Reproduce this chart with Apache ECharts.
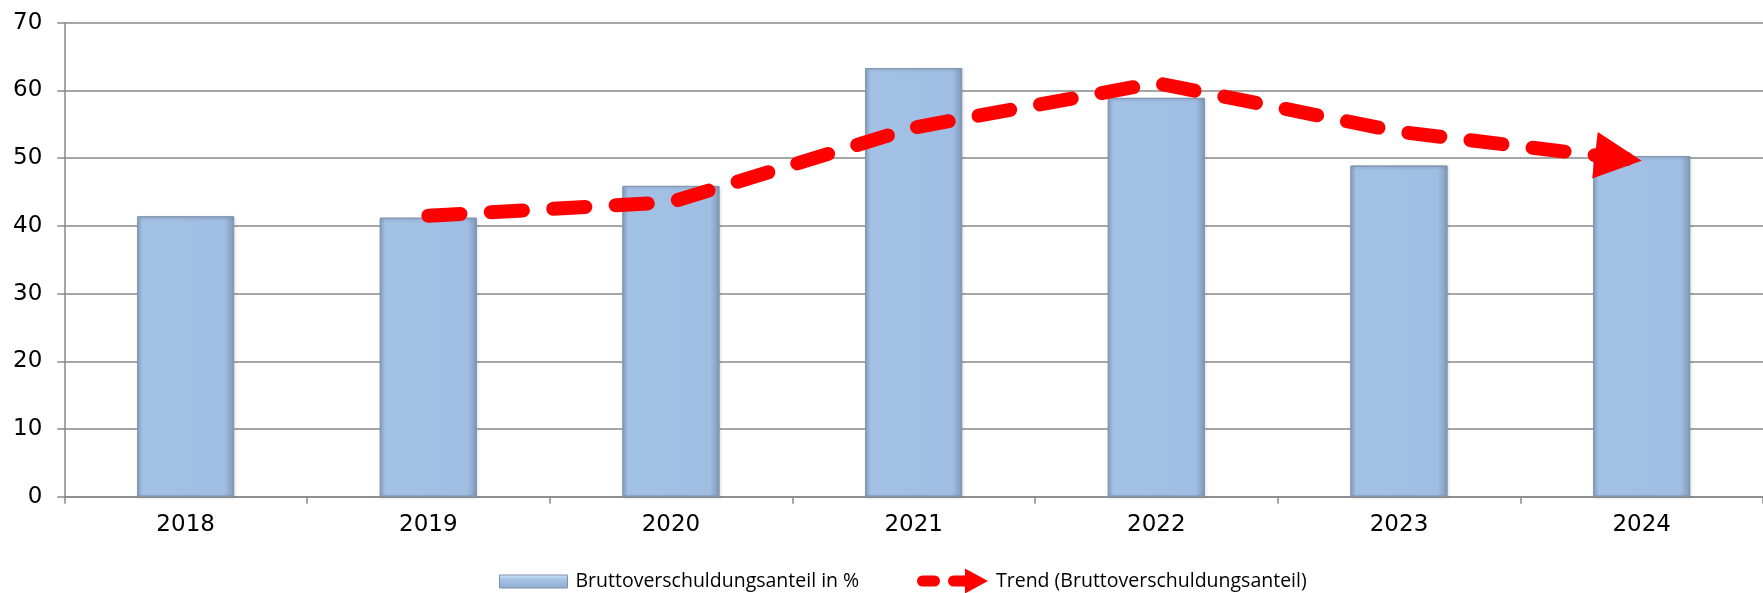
<!DOCTYPE html>
<html>
<head>
<meta charset="utf-8">
<script src="https://cdn.jsdelivr.net/npm/echarts@6/dist/echarts.min.js"></script>
<style>
html,body{margin:0;padding:0;background:#fff;}
#c{width:1763px;height:593px;}
</style>
</head>
<body>
<div id="c"></div>
<script>
const categories = ['2018', '2019', '2020', '2021', '2022', '2023', '2024'];
const bruttoValues = [41.4, 41.2, 45.9, 63.3, 58.9, 48.9, 50.3];
const trendValues = [null, 41.5, 43.5, 54.5, 61.1, 53.9, 49.6];
const yMin = 0, yMax = 70, yStep = 10;
const barName = 'Bruttoverschuldungsanteil in %';
const trendName = 'Trend (Bruttoverschuldungsanteil)';

const axisGray = '#898989';
const barFill = new echarts.graphic.LinearGradient(0, 0, 1, 0, [
  {offset: 0, color: '#8ea9cd'},
  {offset: 0.06, color: '#a3c0e5'},
  {offset: 0.9, color: '#a0bde3'},
  {offset: 1, color: '#8199ba'}
]);
const legendBarFill = new echarts.graphic.LinearGradient(0, 0, 0, 1, [
  {offset: 0.24, color: '#d2e8f8'},
  {offset: 0.4, color: '#a9c6e8'},
  {offset: 0.76, color: '#8eaad0'}
]);
const barIcon = 'path://M0,0 M68,25 M0,6 L68,6 L68,19 L0,19 Z';
const trendIcon = 'path://M5.5,7 L17.5,7 A5.5,5.5 0 0 1 17.5,18 L5.5,18 A5.5,5.5 0 0 1 5.5,7 Z M36.5,7 L48,7 L48,0 L71,12.5 L48,25 L48,18 L36.5,18 A5.5,5.5 0 0 1 36.5,7 Z';

const chart = echarts.init(document.getElementById('c'), null, {renderer: 'canvas'});

const trendData = trendValues.slice();
const legendText = {fontFamily: 'Open Sans', fontSize: 19.5, color: '#000', padding: [0, 0, 0, 3]};

const option = {
  animation: false,
  backgroundColor: '#ffffff',
  grid: {left: 64.3, right: -11.6, top: 22.7, bottom: 96.3, containLabel: false},
  legend: [
    {
      left: 499, top: 568.5, padding: 0, orient: 'horizontal',
      itemWidth: 68, itemHeight: 25,
      data: [{name: barName, icon: barIcon, itemStyle: {color: legendBarFill, borderColor: '#7f93ab', borderWidth: 1}}],
      textStyle: legendText,
      selectedMode: false
    },
    {
      left: 917, top: 568.5, padding: 0, orient: 'horizontal',
      itemWidth: 71, itemHeight: 25,
      data: [{name: trendName, icon: trendIcon, itemStyle: {color: '#ff0000', borderWidth: 0}}],
      textStyle: legendText,
      selectedMode: false
    }
  ],
  xAxis: {
    type: 'category',
    data: categories,
    boundaryGap: true,
    axisLine: {show: true, lineStyle: {color: axisGray, width: 1.5}},
    axisTick: {show: true, length: 7, inside: false, lineStyle: {color: axisGray, width: 1.5}},
    axisLabel: {margin: 17, fontFamily: 'DejaVu Sans', fontSize: 23, color: '#000'},
    splitLine: {show: false}
  },
  yAxis: {
    type: 'value',
    min: yMin, max: yMax, interval: yStep,
    axisLine: {show: true, lineStyle: {color: axisGray, width: 1.5}},
    axisTick: {show: true, length: 7, inside: false, lineStyle: {color: axisGray, width: 1.5}},
    axisLabel: {margin: 22, fontFamily: 'DejaVu Sans', fontSize: 23, color: '#000'},
    splitLine: {show: true, lineStyle: {color: axisGray, width: 1.5}}
  },
  series: [
    {
      name: barName,
      type: 'bar',
      data: bruttoValues,
      barWidth: '40%',
      itemStyle: {
        color: barFill,
        borderColor: '#8497ae',
        borderWidth: 1,
        shadowColor: 'rgba(0,0,0,0.18)',
        shadowBlur: 3,
        shadowOffsetX: 1,
        shadowOffsetY: 1
      },
      z: 2
    },
    {
      name: trendName,
      type: 'line',
      data: trendData,
      connectNulls: false,
      symbol: 'none',
      showSymbol: true,
      showAllSymbol: true,
      smooth: false,
      itemStyle: {color: '#ff0000', borderWidth: 0},
      lineStyle: {color: '#ff0000', width: 14, cap: 'round', join: 'round', type: [33, 31]},
      z: 3
    }
  ]
};

chart.setOption(option);

function placeArrow() {
  const n = trendValues.length - 1;
  const pts = [];
  for (let i = 0; i <= n; i++) {
    if (trendValues[i] == null) continue;
    pts.push(chart.convertToPixel({seriesIndex: 1}, [categories[i], trendValues[i]]));
  }
  let L = 0;
  for (let i = 1; i < pts.length; i++) {
    L += Math.hypot(pts[i][0] - pts[i - 1][0], pts[i][1] - pts[i - 1][1]);
  }
  const p1 = pts[pts.length - 2], p2 = pts[pts.length - 1];
  const dx = p2[0] - p1[0], dy = p2[1] - p1[1];
  const len = Math.hypot(dx, dy);
  const rot = Math.atan2(-dy, dx) * 180 / Math.PI - 90;
  const h = 47, w = 47;
  const basePeriod = 64, baseDash = 33;
  const targetPhase = (baseDash + (basePeriod - baseDash) / 2) / basePeriod;
  const k = Math.max(1, Math.round(L / basePeriod - targetPhase));
  const period = L / (k + targetPhase);
  const dash = baseDash * period / basePeriod;
  const gap = period - dash;
  const data = trendValues.slice();
  data[n] = {
    value: trendValues[n],
    symbol: 'triangle',
    symbolSize: [w, h],
    symbolRotate: rot,
    symbolOffset: [-h / 2 * dx / len, -h / 2 * dy / len],
    itemStyle: {color: '#ff0000', borderWidth: 0}
  };
  chart.setOption({
    series: [{}, {data: data, lineStyle: {type: [dash, gap]}}]
  });
}
placeArrow();
</script>
</body>
</html>
